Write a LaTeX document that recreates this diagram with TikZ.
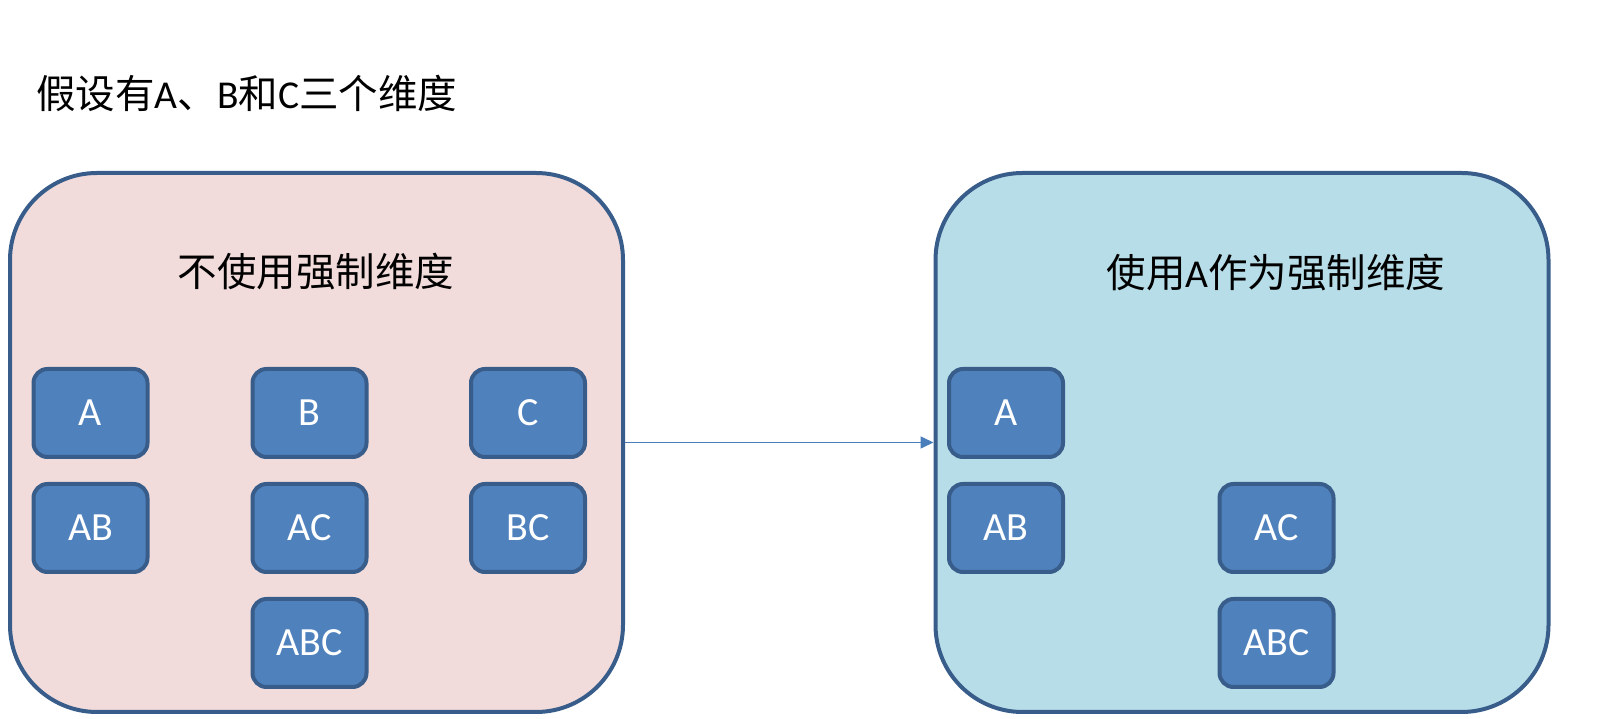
\documentclass[tikz,border=0pt]{standalone}
\usepackage{fontspec}
\setmainfont{Carlito}
\newfontfamily\cjk{Noto Sans CJK SC}
\usetikzlibrary{arrows.meta}
\definecolor{outline}{HTML}{385D8A}
\definecolor{pinkfill}{HTML}{F2DCDB}
\definecolor{bluefill}{HTML}{B7DEE8}
\definecolor{boxfill}{HTML}{4F81BD}
\definecolor{arrowc}{HTML}{4A7EBB}
\tikzset{
  bigbox/.style={draw=outline, line width=4pt, rounded corners=87pt, minimum width=613pt, minimum height=539pt, inner sep=0pt},
  cube/.style={draw=outline, fill=boxfill, line width=4pt, rounded corners=14pt, minimum width=114pt, minimum height=88pt, inner sep=0pt, text=white, font=\fontsize{40}{48}\selectfont},
  heading/.style={inner sep=0pt, font=\fontsize{39.5}{46}\selectfont},
  link/.style={draw=arrowc, line width=1.6pt, -{Triangle[length=13pt,width=12pt]}}
}
\begin{document}
\begin{tikzpicture}[x=1pt,y=1pt]
\useasboundingbox (0,0) rectangle (1600,719);
\node[heading, anchor=west] (title) at (36,626) {{\cjk 假设有}A{\cjk 、}B{\cjk 和}C{\cjk 三个维度}};
\node[bigbox, fill=pinkfill] (L) at (316.5,276.5) {};
\node[bigbox, fill=bluefill] (R) at (1242,276.5) {};
\node[heading] (lt) at (316,447) {\cjk 不使用强制维度};
\node[heading] (rt) at (1276,446) {{\cjk 使用}A{\cjk 作为强制维度}};
\node[cube] (la) at (90.5,306) {\raisebox{-2pt}{A}};
\node[cube] (lb) at (309.5,306) {\raisebox{-2pt}{B}};
\node[cube] (lc) at (528,306) {\raisebox{-2pt}{C}};
\node[cube] (lab) at (90.5,191) {\raisebox{-2pt}{AB}};
\node[cube] (lac) at (309.5,191) {\raisebox{-2pt}{AC}};
\node[cube] (lbc) at (528,191) {\raisebox{-2pt}{BC}};
\node[cube] (labc) at (309.5,76) {\raisebox{-2pt}{ABC}};
\node[cube] (ra) at (1006,306) {\raisebox{-2pt}{A}};
\node[cube] (rab) at (1006,191) {\raisebox{-2pt}{AB}};
\node[cube] (rac) at (1276.5,191) {\raisebox{-2pt}{AC}};
\node[cube] (rabc) at (1276.5,76) {\raisebox{-2pt}{ABC}};
\draw[link] (L.east) -- (R.west);
\end{tikzpicture}
\end{document}
